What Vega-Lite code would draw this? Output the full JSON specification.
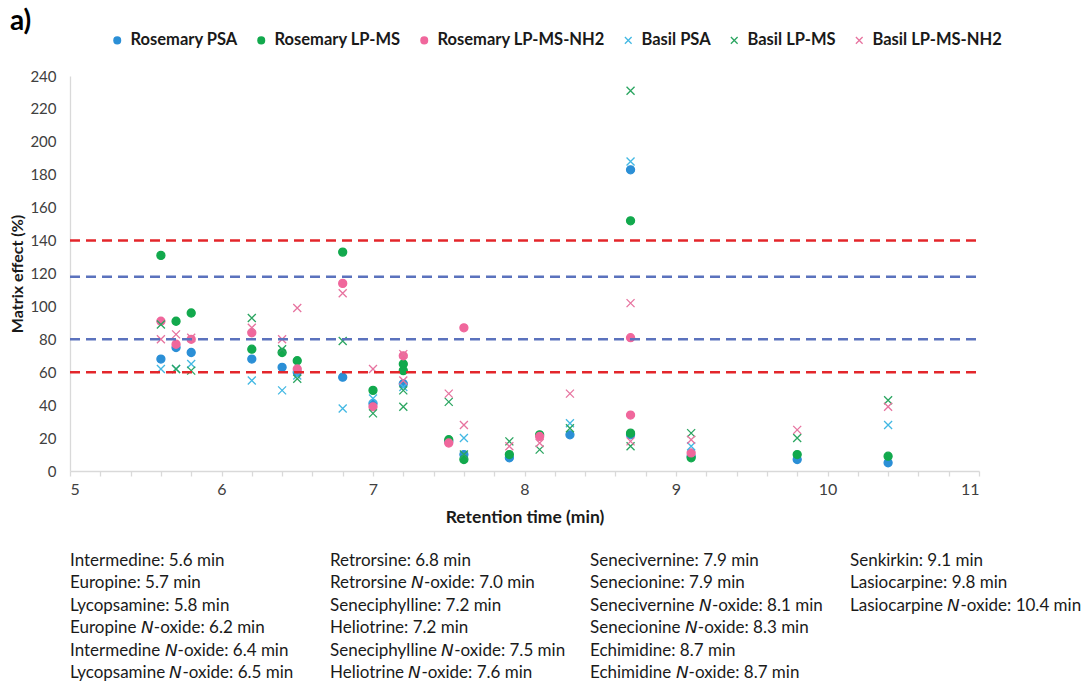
{
  "$schema": "https://vega.github.io/schema/vega-lite/v6.json",
  "padding": {"left": 9, "top": 8, "right": 5, "bottom": 0},
  "config": {
    "font": "Lato",
    "view": {"stroke": null},
    "concat": {"spacing": 26},
    "axis": {"labelOverlap": false},
    "legend": {
      "title": null,
      "labelFontSize": 16.5,
      "labelFontWeight": "bold",
      "labelColor": "#1a1a1a",
      "labelLimit": 400,
      "symbolSize": 45,
      "symbolStrokeWidth": 1.3,
      "columnPadding": 15,
      "labelOffset": 5
    }
  },
  "title": {"text": "a)", "anchor": "start", "frame": "bounds", "fontSize": 28, "fontWeight": "bold", "color": "#000000", "offset": -4},
  "datasets": {
    "compounds": [
      {"compound": "Intermedine", "rt": 5.6},
      {"compound": "Europine", "rt": 5.7},
      {"compound": "Lycopsamine", "rt": 5.8},
      {"compound": "Europine N-oxide", "rt": 6.2},
      {"compound": "Intermedine N-oxide", "rt": 6.4},
      {"compound": "Lycopsamine N-oxide", "rt": 6.5},
      {"compound": "Retrorsine", "rt": 6.8},
      {"compound": "Retrorsine N-oxide", "rt": 7.0},
      {"compound": "Seneciphylline", "rt": 7.2},
      {"compound": "Heliotrine", "rt": 7.2},
      {"compound": "Seneciphylline N-oxide", "rt": 7.5},
      {"compound": "Heliotrine N-oxide", "rt": 7.6},
      {"compound": "Senecivernine", "rt": 7.9},
      {"compound": "Senecionine", "rt": 7.9},
      {"compound": "Senecivernine N-oxide", "rt": 8.1},
      {"compound": "Senecionine N-oxide", "rt": 8.3},
      {"compound": "Echimidine", "rt": 8.7},
      {"compound": "Echimidine N-oxide", "rt": 8.7},
      {"compound": "Senkirkin", "rt": 9.1},
      {"compound": "Lasiocarpine", "rt": 9.8},
      {"compound": "Lasiocarpine N-oxide", "rt": 10.4}
    ],
    "effects": [
      {"compound": "Intermedine", "series": "Rosemary PSA", "effect": 68},
      {"compound": "Europine", "series": "Rosemary PSA", "effect": 75},
      {"compound": "Lycopsamine", "series": "Rosemary PSA", "effect": 72},
      {"compound": "Europine N-oxide", "series": "Rosemary PSA", "effect": 68},
      {"compound": "Intermedine N-oxide", "series": "Rosemary PSA", "effect": 63},
      {"compound": "Lycopsamine N-oxide", "series": "Rosemary PSA", "effect": 60},
      {"compound": "Retrorsine", "series": "Rosemary PSA", "effect": 57},
      {"compound": "Retrorsine N-oxide", "series": "Rosemary PSA", "effect": 41},
      {"compound": "Seneciphylline", "series": "Rosemary PSA", "effect": 53},
      {"compound": "Seneciphylline N-oxide", "series": "Rosemary PSA", "effect": 18},
      {"compound": "Heliotrine N-oxide", "series": "Rosemary PSA", "effect": 10},
      {"compound": "Senecivernine", "series": "Rosemary PSA", "effect": 8},
      {"compound": "Senecionine N-oxide", "series": "Rosemary PSA", "effect": 22},
      {"compound": "Echimidine", "series": "Rosemary PSA", "effect": 183},
      {"compound": "Echimidine N-oxide", "series": "Rosemary PSA", "effect": 22},
      {"compound": "Senkirkin", "series": "Rosemary PSA", "effect": 9},
      {"compound": "Lasiocarpine", "series": "Rosemary PSA", "effect": 7},
      {"compound": "Lasiocarpine N-oxide", "series": "Rosemary PSA", "effect": 5},

      {"compound": "Intermedine", "series": "Rosemary LP-MS", "effect": 131},
      {"compound": "Europine", "series": "Rosemary LP-MS", "effect": 91},
      {"compound": "Lycopsamine", "series": "Rosemary LP-MS", "effect": 96},
      {"compound": "Europine N-oxide", "series": "Rosemary LP-MS", "effect": 74},
      {"compound": "Intermedine N-oxide", "series": "Rosemary LP-MS", "effect": 72},
      {"compound": "Lycopsamine N-oxide", "series": "Rosemary LP-MS", "effect": 67},
      {"compound": "Retrorsine", "series": "Rosemary LP-MS", "effect": 133},
      {"compound": "Retrorsine N-oxide", "series": "Rosemary LP-MS", "effect": 49},
      {"compound": "Seneciphylline", "series": "Rosemary LP-MS", "effect": 65},
      {"compound": "Heliotrine", "series": "Rosemary LP-MS", "effect": 61},
      {"compound": "Seneciphylline N-oxide", "series": "Rosemary LP-MS", "effect": 19},
      {"compound": "Heliotrine N-oxide", "series": "Rosemary LP-MS", "effect": 7},
      {"compound": "Senecivernine", "series": "Rosemary LP-MS", "effect": 10},
      {"compound": "Senecivernine N-oxide", "series": "Rosemary LP-MS", "effect": 22},
      {"compound": "Echimidine", "series": "Rosemary LP-MS", "effect": 152},
      {"compound": "Echimidine N-oxide", "series": "Rosemary LP-MS", "effect": 23},
      {"compound": "Senkirkin", "series": "Rosemary LP-MS", "effect": 8},
      {"compound": "Lasiocarpine", "series": "Rosemary LP-MS", "effect": 10},
      {"compound": "Lasiocarpine N-oxide", "series": "Rosemary LP-MS", "effect": 9},

      {"compound": "Intermedine", "series": "Rosemary LP-MS-NH2", "effect": 91},
      {"compound": "Europine", "series": "Rosemary LP-MS-NH2", "effect": 77},
      {"compound": "Lycopsamine", "series": "Rosemary LP-MS-NH2", "effect": 80},
      {"compound": "Europine N-oxide", "series": "Rosemary LP-MS-NH2", "effect": 84},
      {"compound": "Lycopsamine N-oxide", "series": "Rosemary LP-MS-NH2", "effect": 62},
      {"compound": "Retrorsine", "series": "Rosemary LP-MS-NH2", "effect": 114},
      {"compound": "Retrorsine N-oxide", "series": "Rosemary LP-MS-NH2", "effect": 39},
      {"compound": "Seneciphylline", "series": "Rosemary LP-MS-NH2", "effect": 70},
      {"compound": "Seneciphylline N-oxide", "series": "Rosemary LP-MS-NH2", "effect": 17},
      {"compound": "Heliotrine N-oxide", "series": "Rosemary LP-MS-NH2", "effect": 87},
      {"compound": "Senecivernine N-oxide", "series": "Rosemary LP-MS-NH2", "effect": 21},
      {"compound": "Echimidine", "series": "Rosemary LP-MS-NH2", "effect": 81},
      {"compound": "Echimidine N-oxide", "series": "Rosemary LP-MS-NH2", "effect": 34},
      {"compound": "Senkirkin", "series": "Rosemary LP-MS-NH2", "effect": 11},

      {"compound": "Intermedine", "series": "Basil PSA", "effect": 62},
      {"compound": "Europine", "series": "Basil PSA", "effect": 62},
      {"compound": "Lycopsamine", "series": "Basil PSA", "effect": 65},
      {"compound": "Europine N-oxide", "series": "Basil PSA", "effect": 55},
      {"compound": "Intermedine N-oxide", "series": "Basil PSA", "effect": 49},
      {"compound": "Lycopsamine N-oxide", "series": "Basil PSA", "effect": 58},
      {"compound": "Retrorsine", "series": "Basil PSA", "effect": 38},
      {"compound": "Retrorsine N-oxide", "series": "Basil PSA", "effect": 44},
      {"compound": "Seneciphylline", "series": "Basil PSA", "effect": 51},
      {"compound": "Heliotrine N-oxide", "series": "Basil PSA", "effect": 20},
      {"compound": "Senecionine N-oxide", "series": "Basil PSA", "effect": 29},
      {"compound": "Echimidine", "series": "Basil PSA", "effect": 188},
      {"compound": "Senkirkin", "series": "Basil PSA", "effect": 15},
      {"compound": "Lasiocarpine N-oxide", "series": "Basil PSA", "effect": 28},

      {"compound": "Intermedine", "series": "Basil LP-MS", "effect": 89},
      {"compound": "Europine", "series": "Basil LP-MS", "effect": 62},
      {"compound": "Lycopsamine", "series": "Basil LP-MS", "effect": 61},
      {"compound": "Europine N-oxide", "series": "Basil LP-MS", "effect": 93},
      {"compound": "Intermedine N-oxide", "series": "Basil LP-MS", "effect": 74},
      {"compound": "Lycopsamine N-oxide", "series": "Basil LP-MS", "effect": 56},
      {"compound": "Retrorsine", "series": "Basil LP-MS", "effect": 79},
      {"compound": "Retrorsine N-oxide", "series": "Basil LP-MS", "effect": 35},
      {"compound": "Seneciphylline", "series": "Basil LP-MS", "effect": 49},
      {"compound": "Heliotrine", "series": "Basil LP-MS", "effect": 39},
      {"compound": "Seneciphylline N-oxide", "series": "Basil LP-MS", "effect": 42},
      {"compound": "Heliotrine N-oxide", "series": "Basil LP-MS", "effect": 10},
      {"compound": "Senecivernine", "series": "Basil LP-MS", "effect": 18},
      {"compound": "Senecivernine N-oxide", "series": "Basil LP-MS", "effect": 13},
      {"compound": "Senecionine N-oxide", "series": "Basil LP-MS", "effect": 26},
      {"compound": "Echimidine", "series": "Basil LP-MS", "effect": 231},
      {"compound": "Echimidine N-oxide", "series": "Basil LP-MS", "effect": 15},
      {"compound": "Senkirkin", "series": "Basil LP-MS", "effect": 23},
      {"compound": "Lasiocarpine", "series": "Basil LP-MS", "effect": 20},
      {"compound": "Lasiocarpine N-oxide", "series": "Basil LP-MS", "effect": 43},

      {"compound": "Intermedine", "series": "Basil LP-MS-NH2", "effect": 80},
      {"compound": "Europine", "series": "Basil LP-MS-NH2", "effect": 83},
      {"compound": "Lycopsamine", "series": "Basil LP-MS-NH2", "effect": 81},
      {"compound": "Europine N-oxide", "series": "Basil LP-MS-NH2", "effect": 87},
      {"compound": "Intermedine N-oxide", "series": "Basil LP-MS-NH2", "effect": 80},
      {"compound": "Lycopsamine N-oxide", "series": "Basil LP-MS-NH2", "effect": 99},
      {"compound": "Retrorsine", "series": "Basil LP-MS-NH2", "effect": 108},
      {"compound": "Retrorsine N-oxide", "series": "Basil LP-MS-NH2", "effect": 62},
      {"compound": "Seneciphylline", "series": "Basil LP-MS-NH2", "effect": 71},
      {"compound": "Heliotrine", "series": "Basil LP-MS-NH2", "effect": 55},
      {"compound": "Seneciphylline N-oxide", "series": "Basil LP-MS-NH2", "effect": 47},
      {"compound": "Heliotrine N-oxide", "series": "Basil LP-MS-NH2", "effect": 28},
      {"compound": "Senecivernine", "series": "Basil LP-MS-NH2", "effect": 15},
      {"compound": "Senecivernine N-oxide", "series": "Basil LP-MS-NH2", "effect": 17},
      {"compound": "Senecionine N-oxide", "series": "Basil LP-MS-NH2", "effect": 47},
      {"compound": "Echimidine", "series": "Basil LP-MS-NH2", "effect": 102},
      {"compound": "Echimidine N-oxide", "series": "Basil LP-MS-NH2", "effect": 18},
      {"compound": "Senkirkin", "series": "Basil LP-MS-NH2", "effect": 19},
      {"compound": "Lasiocarpine", "series": "Basil LP-MS-NH2", "effect": 25},
      {"compound": "Lasiocarpine N-oxide", "series": "Basil LP-MS-NH2", "effect": 39}
    ],
    "limits": [
      {"level": 140, "kind": "soft"},
      {"level": 60, "kind": "soft"},
      {"level": 118, "kind": "none"},
      {"level": 80, "kind": "none"}
    ]
  },
  "vconcat": [
    {
      "width": 909,
      "height": 395,
      "resolve": {"axis": {"x": "independent", "y": "independent"}},
      "layer": [
        {
          "data": {"name": "effects"},
          "transform": [
            {"lookup": "compound", "from": {"data": {"name": "compounds"}, "key": "compound", "fields": ["rt"]}}
          ],
          "mark": {"type": "point", "filled": true, "opacity": 1, "size": 64, "strokeWidth": 1.3},
          "encoding": {
            "x": {
              "field": "rt",
              "type": "quantitative",
              "scale": {"domain": [5, 11], "nice": false, "zero": false},
              "axis": {
                "title": "Retention time (min)",
                "values": [5, 5.2, 5.4, 5.6, 5.8, 6, 6.2, 6.4, 6.6, 6.8, 7, 7.2, 7.4, 7.6, 7.8, 8, 8.2, 8.4, 8.6, 8.8, 9, 9.2, 9.4, 9.6, 9.8, 10, 10.2, 10.4, 10.6, 10.8, 11],
                "labelExpr": "abs(datum.value - round(datum.value)) < 0.001 ? format(datum.value, 'd') : ''",
                "labelOverlap": false,
                "labelFontSize": 16,
                "labelColor": "#404040",
                "labelPadding": 5,
                "grid": false,
                "domainColor": "#d9d9d9",
                "domainWidth": 1.3,
                "tickColor": "#d9d9d9",
                "tickSize": 5,
                "tickWidth": 1.3,
                "titleFontSize": 17.5,
                "titleFontWeight": "bold",
                "titleColor": "#1a1a1a",
                "titlePadding": 11
              }
            },
            "y": {
              "field": "effect",
              "type": "quantitative",
              "scale": {"domain": [0, 240], "nice": false},
              "axis": {
                "title": "Matrix effect (%)",
                "values": [0, 20, 40, 60, 80, 100, 120, 140, 160, 180, 200, 220, 240],
                "labelOverlap": false,
                "labelFontSize": 15,
                "labelColor": "#404040",
                "labelPadding": 14,
                "ticks": false,
                "grid": false,
                "domainColor": "#d9d9d9",
                "domainWidth": 1.3,
                "titleFontSize": 16,
                "titleFontWeight": "bold",
                "titleColor": "#1a1a1a",
                "titlePadding": 4
              }
            },
            "color": {
              "field": "series",
              "type": "nominal",
              "scale": {
                "domain": ["Rosemary PSA", "Rosemary LP-MS", "Rosemary LP-MS-NH2", "Basil PSA", "Basil LP-MS", "Basil LP-MS-NH2"],
                "range": ["#2b8fd6", "#12a94d", "#f0679c", "#42b8e3", "#2aa560", "#e7739f"]
              },
              "legend": {"orient": "none", "direction": "horizontal", "legendX": 39, "legendY": -44}
            },
            "stroke": {
              "field": "series",
              "type": "nominal",
              "scale": {
                "domain": ["Rosemary PSA", "Rosemary LP-MS", "Rosemary LP-MS-NH2", "Basil PSA", "Basil LP-MS", "Basil LP-MS-NH2"],
                "range": ["#2b8fd6", "#12a94d", "#f0679c", "#42b8e3", "#2aa560", "#e7739f"]
              },
              "legend": {"orient": "none", "direction": "horizontal", "legendX": 39, "legendY": -44}
            },
            "shape": {
              "field": "series",
              "type": "nominal",
              "scale": {
                "domain": ["Rosemary PSA", "Rosemary LP-MS", "Rosemary LP-MS-NH2", "Basil PSA", "Basil LP-MS", "Basil LP-MS-NH2"],
                "range": ["circle", "circle", "circle", "M-1,-1L1,1M-1,1L1,-1", "M-1,-1L1,1M-1,1L1,-1", "M-1,-1L1,1M-1,1L1,-1"]
              },
              "legend": {"orient": "none", "direction": "horizontal", "legendX": 39, "legendY": -44}
            }
          }
        },
        {
          "data": {"name": "limits"},
          "transform": [{"filter": "datum.kind === 'soft'"}],
          "mark": {"type": "rule", "color": "#e3262b", "strokeWidth": 2.5, "strokeDash": [10, 6]},
          "encoding": {
            "y": {"field": "level", "type": "quantitative", "axis": null},
            "x": {"datum": 5, "axis": null},
            "x2": {"datum": 11}
          }
        },
        {
          "data": {"name": "limits"},
          "transform": [{"filter": "datum.kind === 'none'"}],
          "mark": {"type": "rule", "color": "#5b72bd", "strokeWidth": 2.5, "strokeDash": [10, 6]},
          "encoding": {
            "y": {"field": "level", "type": "quantitative", "axis": null},
            "x": {"datum": 5, "axis": null},
            "x2": {"datum": 11}
          }
        },
        {
          "mark": {"type": "text", "text": "Soft matrix effect (+40%)", "align": "left", "baseline": "middle", "fontSize": 16.5, "color": "#e3262b"},
          "encoding": {"x": {"datum": 10.22, "axis": null}, "y": {"datum": 153, "axis": null}}
        },
        {
          "mark": {"type": "text", "text": "No matrix effect (+20%)", "align": "left", "baseline": "middle", "fontSize": 16.5, "color": "#2e75b6"},
          "encoding": {"x": {"datum": 10.22, "axis": null}, "y": {"datum": 126.5, "axis": null}}
        },
        {
          "mark": {"type": "text", "text": "No matrix effect (-20%)", "align": "left", "baseline": "middle", "fontSize": 16.5, "color": "#2e75b6"},
          "encoding": {"x": {"datum": 10.22, "axis": null}, "y": {"datum": 88.5, "axis": null}}
        },
        {
          "mark": {"type": "text", "text": "Soft matrix effect (-40%)", "align": "left", "baseline": "middle", "fontSize": 16.5, "color": "#e3262b"},
          "encoding": {"x": {"datum": 10.22, "axis": null}, "y": {"datum": 66, "axis": null}}
        }
      ]
    },
    {
      "width": 780,
      "height": 112,
      "data": {"name": "compounds"},
      "transform": [
        {"window": [{"op": "row_number", "as": "n"}]},
        {"calculate": "floor((datum.n - 1) / 6)", "as": "col"},
        {"calculate": "(datum.n - 1) % 6", "as": "line"},
        {"calculate": "replace(datum.compound, 'N-oxide', '𝘕-oxide') + ': ' + format(datum.rt, '.1f') + ' min'", "as": "label"}
      ],
      "mark": {"type": "text", "align": "left", "baseline": "middle", "fontSize": 17, "color": "#1a1a1a"},
      "encoding": {
        "x": {"field": "col", "type": "ordinal", "scale": {"type": "point", "padding": 0}, "axis": null},
        "y": {"field": "line", "type": "ordinal", "scale": {"type": "point", "padding": 0}, "axis": null},
        "text": {"field": "label"}
      }
    }
  ]
}
